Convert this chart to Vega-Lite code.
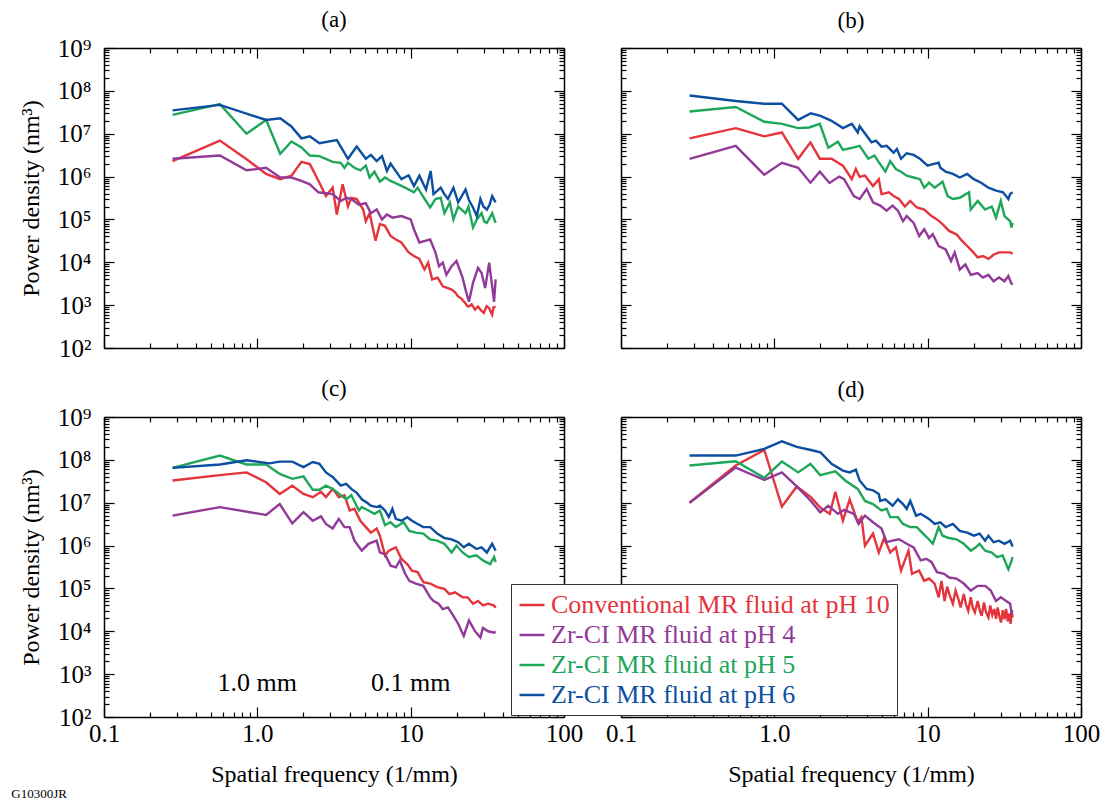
{
"$schema": "https://vega.github.io/schema/vega-lite/v6.json",
"background": "white",
"padding": {"left": 11, "top": 9, "right": 4, "bottom": 2},
"config": {
  "font": "Liberation Serif",
  "view": {"stroke": null},
  "title": {"font": "Liberation Serif", "fontSize": 23, "fontWeight": "normal", "color": "black", "baseline": "bottom", "offset": 14},
  "axis": {"grid": false, "labelFlush": false, "labelOverlap": false, "domainColor": "black", "domainWidth": 1.5, "tickColor": "black", "tickWidth": 1.2, "labelFont": "Liberation Serif", "labelFontSize": 25, "labelColor": "black", "titleFont": "Liberation Serif", "titleFontSize": 24, "titleFontWeight": "normal", "titleColor": "black"}
},
"title": {"text": "G10300JR", "orient": "bottom", "anchor": "start", "fontSize": 13, "offset": 2, "dx": -8, "baseline": "top"},
"datasets": {
"psd": [
{"p":"a","s":"C","f":0.28,"v":2.3e6},{"p":"a","s":"C","f":0.57,"v":6.9e6},{"p":"a","s":"C","f":0.82,"v":2.8e6},{"p":"a","s":"C","f":1.14,"v":1.15e6},{"p":"a","s":"C","f":1.41,"v":8.7e5},{"p":"a","s":"C","f":1.67,"v":1.05e6},{"p":"a","s":"C","f":1.94,"v":2.2e6},{"p":"a","s":"C","f":2.2,"v":1.95e6},{"p":"a","s":"C","f":2.54,"v":7.2e5},{"p":"a","s":"C","f":2.8,"v":3.5e5},{"p":"a","s":"C","f":3.1,"v":5.5e5},{"p":"a","s":"C","f":3.3,"v":1.3e5},{"p":"a","s":"C","f":3.6,"v":6.6e5},{"p":"a","s":"C","f":3.9,"v":2.0e5},{"p":"a","s":"C","f":4.1,"v":3.2e5},{"p":"a","s":"C","f":4.45,"v":3.0e5},{"p":"a","s":"C","f":4.9,"v":1.7e5},{"p":"a","s":"C","f":5.1,"v":9.1e4},{"p":"a","s":"C","f":5.4,"v":1.4e5},{"p":"a","s":"C","f":5.9,"v":3.2e4},{"p":"a","s":"C","f":6.3,"v":7.8e4},{"p":"a","s":"C","f":6.8,"v":7.1e4},{"p":"a","s":"C","f":7.4,"v":4.1e4},{"p":"a","s":"C","f":8.0,"v":3.4e4},{"p":"a","s":"C","f":8.7,"v":2.9e4},{"p":"a","s":"C","f":9.7,"v":1.7e4},{"p":"a","s":"C","f":10.5,"v":1.4e4},{"p":"a","s":"C","f":11.4,"v":1.2e4},{"p":"a","s":"C","f":12.3,"v":6.8e3},{"p":"a","s":"C","f":13.0,"v":9.8e3},{"p":"a","s":"C","f":13.8,"v":4.0e3},{"p":"a","s":"C","f":15,"v":4.4e3},{"p":"a","s":"C","f":16.2,"v":2.75e3},{"p":"a","s":"C","f":17.5,"v":2.5e3},{"p":"a","s":"C","f":18.5,"v":2.3e3},{"p":"a","s":"C","f":19.5,"v":2.0e3},{"p":"a","s":"C","f":20.4,"v":1.6e3},{"p":"a","s":"C","f":21.5,"v":1.4e3},{"p":"a","s":"C","f":22.8,"v":1.1e3},{"p":"a","s":"C","f":23.4,"v":9.5e2},{"p":"a","s":"C","f":24,"v":9.3e2},{"p":"a","s":"C","f":25,"v":1.05e3},{"p":"a","s":"C","f":26.3,"v":7.9e2},{"p":"a","s":"C","f":27.5,"v":9.3e2},{"p":"a","s":"C","f":28.7,"v":7.6e2},{"p":"a","s":"C","f":30,"v":6.6e2},{"p":"a","s":"C","f":31.3,"v":9.5e2},{"p":"a","s":"C","f":32.5,"v":8.5e2},{"p":"a","s":"C","f":33.2,"v":7.1e2},{"p":"a","s":"C","f":34,"v":6.0e2},{"p":"a","s":"C","f":34.7,"v":8.9e2},{"p":"a","s":"C","f":35.8,"v":9.3e2},
{"p":"a","s":"4","f":0.28,"v":2.6e6},{"p":"a","s":"4","f":0.57,"v":3.1e6},{"p":"a","s":"4","f":0.85,"v":1.4e6},{"p":"a","s":"4","f":1.14,"v":1.6e6},{"p":"a","s":"4","f":1.41,"v":9.5e5},{"p":"a","s":"4","f":1.67,"v":9.5e5},{"p":"a","s":"4","f":1.94,"v":7.9e5},{"p":"a","s":"4","f":2.2,"v":6.6e5},{"p":"a","s":"4","f":2.5,"v":4.3e5},{"p":"a","s":"4","f":3.1,"v":3.9e5},{"p":"a","s":"4","f":3.5,"v":2.7e5},{"p":"a","s":"4","f":3.8,"v":3.2e5},{"p":"a","s":"4","f":4.1,"v":3.0e5},{"p":"a","s":"4","f":4.6,"v":2.2e5},{"p":"a","s":"4","f":5.1,"v":2.4e5},{"p":"a","s":"4","f":5.5,"v":1.4e5},{"p":"a","s":"4","f":6.0,"v":1.7e5},{"p":"a","s":"4","f":6.5,"v":1.0e5},{"p":"a","s":"4","f":7.0,"v":1.3e5},{"p":"a","s":"4","f":7.6,"v":1.1e5},{"p":"a","s":"4","f":8.7,"v":1.2e5},{"p":"a","s":"4","f":10.0,"v":1.0e5},{"p":"a","s":"4","f":10.5,"v":5.9e4},{"p":"a","s":"4","f":11.4,"v":2.9e4},{"p":"a","s":"4","f":12.6,"v":3.2e4},{"p":"a","s":"4","f":13.4,"v":3.4e4},{"p":"a","s":"4","f":14.5,"v":1.7e4},{"p":"a","s":"4","f":15.3,"v":8.1e3},{"p":"a","s":"4","f":16.2,"v":9.8e3},{"p":"a","s":"4","f":17.1,"v":5.1e3},{"p":"a","s":"4","f":18.5,"v":8.1e3},{"p":"a","s":"4","f":19.9,"v":1.07e4},{"p":"a","s":"4","f":21.8,"v":4.4e3},{"p":"a","s":"4","f":22.8,"v":2.3e3},{"p":"a","s":"4","f":24.0,"v":1.2e3},{"p":"a","s":"4","f":25.5,"v":3.3e3},{"p":"a","s":"4","f":27.5,"v":7.4e3},{"p":"a","s":"4","f":29,"v":5.6e3},{"p":"a","s":"4","f":30.6,"v":2.5e3},{"p":"a","s":"4","f":32.5,"v":9.8e3},{"p":"a","s":"4","f":34,"v":2.75e3},{"p":"a","s":"4","f":35,"v":1.2e3},{"p":"a","s":"4","f":35.8,"v":4.0e3},
{"p":"a","s":"5","f":0.28,"v":2.75e7},{"p":"a","s":"5","f":0.57,"v":4.9e7},{"p":"a","s":"5","f":0.85,"v":1.0e7},{"p":"a","s":"5","f":1.14,"v":2.1e7},{"p":"a","s":"5","f":1.41,"v":3.4e6},{"p":"a","s":"5","f":1.67,"v":6.6e6},{"p":"a","s":"5","f":1.94,"v":4.8e6},{"p":"a","s":"5","f":2.2,"v":3.1e6},{"p":"a","s":"5","f":2.54,"v":3.0e6},{"p":"a","s":"5","f":3.1,"v":2.2e6},{"p":"a","s":"5","f":3.5,"v":2.1e6},{"p":"a","s":"5","f":3.7,"v":1.6e6},{"p":"a","s":"5","f":3.9,"v":2.1e6},{"p":"a","s":"5","f":4.3,"v":1.6e6},{"p":"a","s":"5","f":4.7,"v":1.4e6},{"p":"a","s":"5","f":5.1,"v":1.8e6},{"p":"a","s":"5","f":5.4,"v":9.5e5},{"p":"a","s":"5","f":5.8,"v":1.3e6},{"p":"a","s":"5","f":6.3,"v":7.6e5},{"p":"a","s":"5","f":6.8,"v":9.5e5},{"p":"a","s":"5","f":7.4,"v":7.9e5},{"p":"a","s":"5","f":8.3,"v":6.6e5},{"p":"a","s":"5","f":9.2,"v":5.5e5},{"p":"a","s":"5","f":10.5,"v":4.3e5},{"p":"a","s":"5","f":11.1,"v":5.5e5},{"p":"a","s":"5","f":12.0,"v":3.5e5},{"p":"a","s":"5","f":13.4,"v":1.9e5},{"p":"a","s":"5","f":14.5,"v":3.0e5},{"p":"a","s":"5","f":15.7,"v":3.2e5},{"p":"a","s":"5","f":16.6,"v":1.4e5},{"p":"a","s":"5","f":18,"v":2.5e5},{"p":"a","s":"5","f":19,"v":1.0e5},{"p":"a","s":"5","f":20.4,"v":2.0e5},{"p":"a","s":"5","f":22.8,"v":1.4e5},{"p":"a","s":"5","f":23.8,"v":2.0e5},{"p":"a","s":"5","f":25.5,"v":6.5e4},{"p":"a","s":"5","f":26.2,"v":7.9e4},{"p":"a","s":"5","f":27,"v":1.0e5},{"p":"a","s":"5","f":29,"v":1.4e5},{"p":"a","s":"5","f":30.2,"v":8.9e4},{"p":"a","s":"5","f":31.4,"v":8.3e4},{"p":"a","s":"5","f":32.8,"v":1.1e5},{"p":"a","s":"5","f":34,"v":1.4e5},{"p":"a","s":"5","f":35.8,"v":8.3e4},
{"p":"a","s":"6","f":0.28,"v":3.5e7},{"p":"a","s":"6","f":0.57,"v":4.7e7},{"p":"a","s":"6","f":1.14,"v":2.1e7},{"p":"a","s":"6","f":1.41,"v":2.3e7},{"p":"a","s":"6","f":1.66,"v":1.5e7},{"p":"a","s":"6","f":1.94,"v":7.8e6},{"p":"a","s":"6","f":2.2,"v":8.7e6},{"p":"a","s":"6","f":2.54,"v":6.0e6},{"p":"a","s":"6","f":3.3,"v":7.1e6},{"p":"a","s":"6","f":3.9,"v":2.6e6},{"p":"a","s":"6","f":4.45,"v":5.0e6},{"p":"a","s":"6","f":5.1,"v":2.6e6},{"p":"a","s":"6","f":5.5,"v":3.2e6},{"p":"a","s":"6","f":6.0,"v":2.3e6},{"p":"a","s":"6","f":6.5,"v":3.0e6},{"p":"a","s":"6","f":7.0,"v":1.35e6},{"p":"a","s":"6","f":7.4,"v":2.0e6},{"p":"a","s":"6","f":8.7,"v":8.7e5},{"p":"a","s":"6","f":9.7,"v":1.07e6},{"p":"a","s":"6","f":10.5,"v":6.0e5},{"p":"a","s":"6","f":11.4,"v":1.05e6},{"p":"a","s":"6","f":12.6,"v":5.0e5},{"p":"a","s":"6","f":13.5,"v":1.35e6},{"p":"a","s":"6","f":14.1,"v":3.9e5},{"p":"a","s":"6","f":15.7,"v":5.5e5},{"p":"a","s":"6","f":16.5,"v":4.0e5},{"p":"a","s":"6","f":17.5,"v":3.0e5},{"p":"a","s":"6","f":19,"v":5.5e5},{"p":"a","s":"6","f":20.4,"v":2.5e5},{"p":"a","s":"6","f":22.8,"v":5.0e5},{"p":"a","s":"6","f":24,"v":2.8e5},{"p":"a","s":"6","f":25.5,"v":1.9e5},{"p":"a","s":"6","f":27,"v":1.2e5},{"p":"a","s":"6","f":28.5,"v":3.0e5},{"p":"a","s":"6","f":29.8,"v":2.0e5},{"p":"a","s":"6","f":31.4,"v":1.7e5},{"p":"a","s":"6","f":32.7,"v":2.2e5},{"p":"a","s":"6","f":34,"v":3.5e5},{"p":"a","s":"6","f":35.8,"v":2.5e5},
{"p":"b","s":"C","f":0.28,"v":7.8e6},{"p":"b","s":"C","f":0.56,"v":1.35e7},{"p":"b","s":"C","f":0.86,"v":8.7e6},{"p":"b","s":"C","f":1.12,"v":1.07e7},{"p":"b","s":"C","f":1.43,"v":2.6e6},{"p":"b","s":"C","f":1.72,"v":6.3e6},{"p":"b","s":"C","f":1.98,"v":2.6e6},{"p":"b","s":"C","f":2.36,"v":2.6e6},{"p":"b","s":"C","f":2.8,"v":1.8e6},{"p":"b","s":"C","f":3.2,"v":8.7e5},{"p":"b","s":"C","f":3.4,"v":1.5e6},{"p":"b","s":"C","f":3.6,"v":9.8e5},{"p":"b","s":"C","f":3.9,"v":1.05e6},{"p":"b","s":"C","f":4.4,"v":6.0e5},{"p":"b","s":"C","f":4.8,"v":8.7e5},{"p":"b","s":"C","f":5.0,"v":3.9e5},{"p":"b","s":"C","f":5.6,"v":4.3e5},{"p":"b","s":"C","f":6.0,"v":3.5e5},{"p":"b","s":"C","f":6.5,"v":3.0e5},{"p":"b","s":"C","f":7.1,"v":2.0e5},{"p":"b","s":"C","f":7.7,"v":2.7e5},{"p":"b","s":"C","f":8.5,"v":1.9e5},{"p":"b","s":"C","f":9.5,"v":1.7e5},{"p":"b","s":"C","f":10.6,"v":1.2e5},{"p":"b","s":"C","f":11.5,"v":1.0e5},{"p":"b","s":"C","f":12.5,"v":7.8e4},{"p":"b","s":"C","f":13.8,"v":5.4e4},{"p":"b","s":"C","f":15.4,"v":4.5e4},{"p":"b","s":"C","f":16.7,"v":3.2e4},{"p":"b","s":"C","f":18.1,"v":2.4e4},{"p":"b","s":"C","f":19.6,"v":1.8e4},{"p":"b","s":"C","f":21.2,"v":1.3e4},{"p":"b","s":"C","f":22.9,"v":1.4e4},{"p":"b","s":"C","f":24.9,"v":1.2e4},{"p":"b","s":"C","f":26.9,"v":1.5e4},{"p":"b","s":"C","f":29.2,"v":1.7e4},{"p":"b","s":"C","f":31.7,"v":1.7e4},{"p":"b","s":"C","f":34.5,"v":1.7e4},{"p":"b","s":"C","f":35.8,"v":1.6e4},
{"p":"b","s":"4","f":0.28,"v":2.6e6},{"p":"b","s":"4","f":0.56,"v":5.2e6},{"p":"b","s":"4","f":0.86,"v":1.1e6},{"p":"b","s":"4","f":1.12,"v":2.1e6},{"p":"b","s":"4","f":1.43,"v":1.6e6},{"p":"b","s":"4","f":1.72,"v":7.2e5},{"p":"b","s":"4","f":1.98,"v":1.3e6},{"p":"b","s":"4","f":2.29,"v":7.1e5},{"p":"b","s":"4","f":2.65,"v":1.0e6},{"p":"b","s":"4","f":2.85,"v":8.7e5},{"p":"b","s":"4","f":3.3,"v":3.5e5},{"p":"b","s":"4","f":3.6,"v":3.0e5},{"p":"b","s":"4","f":4.0,"v":5.1e5},{"p":"b","s":"4","f":4.4,"v":2.5e5},{"p":"b","s":"4","f":4.9,"v":2.1e5},{"p":"b","s":"4","f":5.4,"v":1.6e5},{"p":"b","s":"4","f":5.9,"v":2.1e5},{"p":"b","s":"4","f":6.4,"v":1.6e5},{"p":"b","s":"4","f":6.9,"v":9.1e4},{"p":"b","s":"4","f":7.3,"v":1.2e5},{"p":"b","s":"4","f":8.1,"v":8.3e4},{"p":"b","s":"4","f":8.8,"v":4.1e4},{"p":"b","s":"4","f":9.5,"v":5.9e4},{"p":"b","s":"4","f":10.2,"v":3.7e4},{"p":"b","s":"4","f":10.8,"v":4.5e4},{"p":"b","s":"4","f":11.8,"v":2.4e4},{"p":"b","s":"4","f":13.1,"v":2.0e4},{"p":"b","s":"4","f":14.2,"v":1.07e4},{"p":"b","s":"4","f":15,"v":1.7e4},{"p":"b","s":"4","f":16.2,"v":6.8e3},{"p":"b","s":"4","f":17.6,"v":8.9e3},{"p":"b","s":"4","f":19.1,"v":5.1e3},{"p":"b","s":"4","f":21.2,"v":5.6e3},{"p":"b","s":"4","f":22.9,"v":4.4e3},{"p":"b","s":"4","f":24.9,"v":5.1e3},{"p":"b","s":"4","f":26.9,"v":3.6e3},{"p":"b","s":"4","f":29.2,"v":4.4e3},{"p":"b","s":"4","f":31.7,"v":3.6e3},{"p":"b","s":"4","f":33.6,"v":4.8e3},{"p":"b","s":"4","f":35.0,"v":3.3e3},{"p":"b","s":"4","f":35.8,"v":3.0e3},
{"p":"b","s":"5","f":0.28,"v":3.3e7},{"p":"b","s":"5","f":0.56,"v":4.2e7},{"p":"b","s":"5","f":0.86,"v":1.9e7},{"p":"b","s":"5","f":1.12,"v":1.7e7},{"p":"b","s":"5","f":1.43,"v":1.35e7},{"p":"b","s":"5","f":1.69,"v":1.4e7},{"p":"b","s":"5","f":1.98,"v":1.7e7},{"p":"b","s":"5","f":2.25,"v":4.7e6},{"p":"b","s":"5","f":2.6,"v":6.5e6},{"p":"b","s":"5","f":2.8,"v":4.2e6},{"p":"b","s":"5","f":3.3,"v":4.8e6},{"p":"b","s":"5","f":3.6,"v":5.2e6},{"p":"b","s":"5","f":4.1,"v":2.6e6},{"p":"b","s":"5","f":4.5,"v":3.1e6},{"p":"b","s":"5","f":4.9,"v":1.95e6},{"p":"b","s":"5","f":5.3,"v":1.3e6},{"p":"b","s":"5","f":5.7,"v":2.3e6},{"p":"b","s":"5","f":6.2,"v":1.5e6},{"p":"b","s":"5","f":6.7,"v":1.3e6},{"p":"b","s":"5","f":7.3,"v":1.05e6},{"p":"b","s":"5","f":8.1,"v":9.5e5},{"p":"b","s":"5","f":8.9,"v":8.7e5},{"p":"b","s":"5","f":9.5,"v":5.5e5},{"p":"b","s":"5","f":10.2,"v":7.2e5},{"p":"b","s":"5","f":11.1,"v":5.5e5},{"p":"b","s":"5","f":12.5,"v":7.6e5},{"p":"b","s":"5","f":13.5,"v":3.5e5},{"p":"b","s":"5","f":14.6,"v":3.0e5},{"p":"b","s":"5","f":16.2,"v":3.2e5},{"p":"b","s":"5","f":18.6,"v":4.3e5},{"p":"b","s":"5","f":19.1,"v":1.7e5},{"p":"b","s":"5","f":21.2,"v":2.7e5},{"p":"b","s":"5","f":23.7,"v":1.7e5},{"p":"b","s":"5","f":26.2,"v":2.0e5},{"p":"b","s":"5","f":27.9,"v":1.1e5},{"p":"b","s":"5","f":30,"v":2.7e5},{"p":"b","s":"5","f":31.7,"v":1.2e5},{"p":"b","s":"5","f":34.5,"v":9.1e4},{"p":"b","s":"5","f":35.2,"v":6.5e4},{"p":"b","s":"5","f":35.8,"v":8.3e4},
{"p":"b","s":"6","f":0.28,"v":7.8e7},{"p":"b","s":"6","f":0.56,"v":5.8e7},{"p":"b","s":"6","f":0.86,"v":5.0e7},{"p":"b","s":"6","f":1.12,"v":5.0e7},{"p":"b","s":"6","f":1.43,"v":2.1e7},{"p":"b","s":"6","f":1.73,"v":3.0e7},{"p":"b","s":"6","f":2.0,"v":2.6e7},{"p":"b","s":"6","f":2.36,"v":2.0e7},{"p":"b","s":"6","f":2.8,"v":1.35e7},{"p":"b","s":"6","f":3.2,"v":1.7e7},{"p":"b","s":"6","f":3.5,"v":1.07e7},{"p":"b","s":"6","f":3.6,"v":1.5e7},{"p":"b","s":"6","f":4.3,"v":6.3e6},{"p":"b","s":"6","f":4.6,"v":6.9e6},{"p":"b","s":"6","f":5.0,"v":5.0e6},{"p":"b","s":"6","f":5.4,"v":5.2e6},{"p":"b","s":"6","f":6.0,"v":3.6e6},{"p":"b","s":"6","f":6.3,"v":4.4e6},{"p":"b","s":"6","f":6.7,"v":2.6e6},{"p":"b","s":"6","f":7.3,"v":3.5e6},{"p":"b","s":"6","f":8.1,"v":3.2e6},{"p":"b","s":"6","f":8.9,"v":2.6e6},{"p":"b","s":"6","f":10.0,"v":1.8e6},{"p":"b","s":"6","f":10.8,"v":1.95e6},{"p":"b","s":"6","f":11.8,"v":2.1e6},{"p":"b","s":"6","f":12.1,"v":1.6e6},{"p":"b","s":"6","f":13.1,"v":1.3e6},{"p":"b","s":"6","f":14.6,"v":1.15e6},{"p":"b","s":"6","f":16.2,"v":9.5e5},{"p":"b","s":"6","f":18.1,"v":1.15e6},{"p":"b","s":"6","f":20,"v":8.7e5},{"p":"b","s":"6","f":22.3,"v":7.2e5},{"p":"b","s":"6","f":24.9,"v":5.5e5},{"p":"b","s":"6","f":27.9,"v":4.7e5},{"p":"b","s":"6","f":31,"v":4.3e5},{"p":"b","s":"6","f":33.6,"v":3.0e5},{"p":"b","s":"6","f":34.5,"v":3.9e5},{"p":"b","s":"6","f":35.8,"v":4.3e5},
{"p":"c","s":"C","f":0.28,"v":3.3e7},{"p":"c","s":"C","f":0.57,"v":4.4e7},{"p":"c","s":"C","f":0.85,"v":5.1e7},{"p":"c","s":"C","f":1.14,"v":3.0e7},{"p":"c","s":"C","f":1.4,"v":1.6e7},{"p":"c","s":"C","f":1.69,"v":2.5e7},{"p":"c","s":"C","f":2.0,"v":1.6e7},{"p":"c","s":"C","f":2.3,"v":1.35e7},{"p":"c","s":"C","f":2.6,"v":1.8e7},{"p":"c","s":"C","f":2.8,"v":1.35e7},{"p":"c","s":"C","f":3.1,"v":2.1e7},{"p":"c","s":"C","f":3.4,"v":1.35e7},{"p":"c","s":"C","f":3.7,"v":1.5e7},{"p":"c","s":"C","f":4.0,"v":6.6e6},{"p":"c","s":"C","f":4.3,"v":7.2e6},{"p":"c","s":"C","f":4.7,"v":3.8e6},{"p":"c","s":"C","f":5.1,"v":2.7e6},{"p":"c","s":"C","f":5.5,"v":2.0e6},{"p":"c","s":"C","f":6.0,"v":2.5e6},{"p":"c","s":"C","f":6.3,"v":1.7e6},{"p":"c","s":"C","f":6.8,"v":5.9e5},{"p":"c","s":"C","f":7.2,"v":7.6e5},{"p":"c","s":"C","f":8.0,"v":9.1e5},{"p":"c","s":"C","f":8.7,"v":4.9e5},{"p":"c","s":"C","f":9.5,"v":3.7e5},{"p":"c","s":"C","f":10.2,"v":2.6e5},{"p":"c","s":"C","f":11.1,"v":2.4e5},{"p":"c","s":"C","f":12.1,"v":1.4e5},{"p":"c","s":"C","f":13.4,"v":1.3e5},{"p":"c","s":"C","f":14.9,"v":1.07e5},{"p":"c","s":"C","f":16.6,"v":9.8e4},{"p":"c","s":"C","f":17.9,"v":7.4e4},{"p":"c","s":"C","f":19.5,"v":8.1e4},{"p":"c","s":"C","f":21.8,"v":6.2e4},{"p":"c","s":"C","f":23.5,"v":6.2e4},{"p":"c","s":"C","f":25.5,"v":4.4e4},{"p":"c","s":"C","f":27.5,"v":5.1e4},{"p":"c","s":"C","f":29.6,"v":4.0e4},{"p":"c","s":"C","f":32,"v":4.4e4},{"p":"c","s":"C","f":35,"v":4.0e4},{"p":"c","s":"C","f":35.8,"v":3.5e4},
{"p":"c","s":"4","f":0.28,"v":5.0e6},{"p":"c","s":"4","f":0.57,"v":7.9e6},{"p":"c","s":"4","f":1.14,"v":5.2e6},{"p":"c","s":"4","f":1.4,"v":9.3e6},{"p":"c","s":"4","f":1.69,"v":3.3e6},{"p":"c","s":"4","f":2.0,"v":6.0e6},{"p":"c","s":"4","f":2.3,"v":3.8e6},{"p":"c","s":"4","f":2.6,"v":4.8e6},{"p":"c","s":"4","f":2.8,"v":3.2e6},{"p":"c","s":"4","f":3.1,"v":2.5e6},{"p":"c","s":"4","f":3.4,"v":4.2e6},{"p":"c","s":"4","f":3.7,"v":2.7e6},{"p":"c","s":"4","f":4.0,"v":2.7e6},{"p":"c","s":"4","f":4.3,"v":1.3e6},{"p":"c","s":"4","f":4.8,"v":7.6e5},{"p":"c","s":"4","f":5.3,"v":1.1e6},{"p":"c","s":"4","f":6.0,"v":1.3e6},{"p":"c","s":"4","f":6.3,"v":6.9e5},{"p":"c","s":"4","f":6.8,"v":6.3e5},{"p":"c","s":"4","f":7.4,"v":3.4e5},{"p":"c","s":"4","f":8.0,"v":3.1e5},{"p":"c","s":"4","f":8.5,"v":4.5e5},{"p":"c","s":"4","f":9.2,"v":2.2e5},{"p":"c","s":"4","f":9.8,"v":1.5e5},{"p":"c","s":"4","f":10.8,"v":1.3e5},{"p":"c","s":"4","f":12.1,"v":1.15e5},{"p":"c","s":"4","f":13.4,"v":6.2e4},{"p":"c","s":"4","f":14.1,"v":5.1e4},{"p":"c","s":"4","f":15.2,"v":4.4e4},{"p":"c","s":"4","f":16.2,"v":3.3e4},{"p":"c","s":"4","f":17.5,"v":3.6e4},{"p":"c","s":"4","f":19,"v":2.3e4},{"p":"c","s":"4","f":20.4,"v":1.5e4},{"p":"c","s":"4","f":22.2,"v":7.8e3},{"p":"c","s":"4","f":24,"v":1.8e4},{"p":"c","s":"4","f":26.3,"v":1.0e4},{"p":"c","s":"4","f":28.5,"v":7.2e3},{"p":"c","s":"4","f":29.6,"v":1.2e4},{"p":"c","s":"4","f":32,"v":1.0e4},{"p":"c","s":"4","f":35,"v":9.3e3},{"p":"c","s":"4","f":35.8,"v":1.0e4},
{"p":"c","s":"5","f":0.28,"v":6.5e7},{"p":"c","s":"5","f":0.57,"v":1.26e8},{"p":"c","s":"5","f":0.85,"v":7.8e7},{"p":"c","s":"5","f":1.14,"v":7.8e7},{"p":"c","s":"5","f":1.4,"v":4.7e7},{"p":"c","s":"5","f":1.69,"v":3.6e7},{"p":"c","s":"5","f":2.0,"v":4.1e7},{"p":"c","s":"5","f":2.3,"v":2.0e7},{"p":"c","s":"5","f":2.54,"v":2.0e7},{"p":"c","s":"5","f":2.8,"v":2.5e7},{"p":"c","s":"5","f":3.1,"v":2.1e7},{"p":"c","s":"5","f":3.5,"v":1.5e7},{"p":"c","s":"5","f":3.8,"v":1.2e7},{"p":"c","s":"5","f":4.1,"v":1.5e7},{"p":"c","s":"5","f":4.6,"v":6.6e6},{"p":"c","s":"5","f":4.8,"v":7.9e6},{"p":"c","s":"5","f":5.3,"v":6.6e6},{"p":"c","s":"5","f":5.8,"v":5.5e6},{"p":"c","s":"5","f":6.3,"v":6.6e6},{"p":"c","s":"5","f":6.8,"v":3.0e6},{"p":"c","s":"5","f":7.4,"v":3.5e6},{"p":"c","s":"5","f":8.0,"v":2.7e6},{"p":"c","s":"5","f":9.0,"v":3.5e6},{"p":"c","s":"5","f":9.8,"v":2.2e6},{"p":"c","s":"5","f":10.8,"v":2.0e6},{"p":"c","s":"5","f":12.1,"v":1.9e6},{"p":"c","s":"5","f":13.4,"v":1.4e6},{"p":"c","s":"5","f":14.9,"v":1.3e6},{"p":"c","s":"5","f":16.6,"v":1.1e6},{"p":"c","s":"5","f":18.5,"v":6.9e5},{"p":"c","s":"5","f":19.9,"v":1.0e6},{"p":"c","s":"5","f":21.8,"v":6.9e5},{"p":"c","s":"5","f":24,"v":5.4e5},{"p":"c","s":"5","f":26.8,"v":5.9e5},{"p":"c","s":"5","f":29.6,"v":4.5e5},{"p":"c","s":"5","f":33,"v":3.7e5},{"p":"c","s":"5","f":35,"v":5.4e5},{"p":"c","s":"5","f":35.8,"v":4.1e5},
{"p":"c","s":"6","f":0.28,"v":6.5e7},{"p":"c","s":"6","f":0.57,"v":7.8e7},{"p":"c","s":"6","f":0.85,"v":9.8e7},{"p":"c","s":"6","f":1.2,"v":8.3e7},{"p":"c","s":"6","f":1.4,"v":9.1e7},{"p":"c","s":"6","f":1.69,"v":9.1e7},{"p":"c","s":"6","f":2.0,"v":6.8e7},{"p":"c","s":"6","f":2.3,"v":8.9e7},{"p":"c","s":"6","f":2.54,"v":8.1e7},{"p":"c","s":"6","f":2.8,"v":5.1e7},{"p":"c","s":"6","f":3.1,"v":4.0e7},{"p":"c","s":"6","f":3.5,"v":2.5e7},{"p":"c","s":"6","f":3.8,"v":2.75e7},{"p":"c","s":"6","f":4.1,"v":2.1e7},{"p":"c","s":"6","f":4.45,"v":1.7e7},{"p":"c","s":"6","f":4.8,"v":1.2e7},{"p":"c","s":"6","f":5.2,"v":1.0e7},{"p":"c","s":"6","f":5.5,"v":8.5e6},{"p":"c","s":"6","f":6.0,"v":7.9e6},{"p":"c","s":"6","f":6.3,"v":8.5e6},{"p":"c","s":"6","f":6.8,"v":6.6e6},{"p":"c","s":"6","f":7.2,"v":4.6e6},{"p":"c","s":"6","f":7.6,"v":7.2e6},{"p":"c","s":"6","f":8.0,"v":4.2e6},{"p":"c","s":"6","f":8.7,"v":3.8e6},{"p":"c","s":"6","f":9.5,"v":4.6e6},{"p":"c","s":"6","f":10.2,"v":3.8e6},{"p":"c","s":"6","f":11.1,"v":3.2e6},{"p":"c","s":"6","f":12.1,"v":2.7e6},{"p":"c","s":"6","f":13.4,"v":2.7e6},{"p":"c","s":"6","f":14.9,"v":1.9e6},{"p":"c","s":"6","f":16.6,"v":1.5e6},{"p":"c","s":"6","f":18.5,"v":1.4e6},{"p":"c","s":"6","f":20.4,"v":1.2e6},{"p":"c","s":"6","f":22.2,"v":9.1e5},{"p":"c","s":"6","f":24,"v":1.1e6},{"p":"c","s":"6","f":26.8,"v":8.3e5},{"p":"c","s":"6","f":29,"v":9.1e5},{"p":"c","s":"6","f":31.4,"v":6.9e5},{"p":"c","s":"6","f":34,"v":1.1e6},{"p":"c","s":"6","f":35.8,"v":7.6e5},
{"p":"d","s":"C","f":0.28,"v":1.0e7},{"p":"d","s":"C","f":0.56,"v":7.4e7},{"p":"d","s":"C","f":0.86,"v":1.7e8},{"p":"d","s":"C","f":1.12,"v":8.1e6},{"p":"d","s":"C","f":1.4,"v":2.4e7},{"p":"d","s":"C","f":1.73,"v":1.35e7},{"p":"d","s":"C","f":2.0,"v":7.6e6},{"p":"d","s":"C","f":2.3,"v":5.5e6},{"p":"d","s":"C","f":2.5,"v":1.8e7},{"p":"d","s":"C","f":2.8,"v":3.8e6},{"p":"d","s":"C","f":3.1,"v":1.2e7},{"p":"d","s":"C","f":3.5,"v":3.5e6},{"p":"d","s":"C","f":3.7,"v":4.6e6},{"p":"d","s":"C","f":3.9,"v":1.0e6},{"p":"d","s":"C","f":4.4,"v":1.9e6},{"p":"d","s":"C","f":4.8,"v":6.9e5},{"p":"d","s":"C","f":5.2,"v":1.5e6},{"p":"d","s":"C","f":5.7,"v":6.9e5},{"p":"d","s":"C","f":6.2,"v":9.1e5},{"p":"d","s":"C","f":6.7,"v":2.6e5},{"p":"d","s":"C","f":7.5,"v":7.6e5},{"p":"d","s":"C","f":7.9,"v":2.2e5},{"p":"d","s":"C","f":8.8,"v":2.6e5},{"p":"d","s":"C","f":9.5,"v":1.5e5},{"p":"d","s":"C","f":10.2,"v":1.7e5},{"p":"d","s":"C","f":11.1,"v":1.3e5},{"p":"d","s":"C","f":11.8,"v":6.2e4},{"p":"d","s":"C","f":12.3,"v":1.5e5},{"p":"d","s":"C","f":12.9,"v":5.1e4},{"p":"d","s":"C","f":13.4,"v":1.1e5},{"p":"d","s":"C","f":13.9,"v":7.0e4},{"p":"d","s":"C","f":14.6,"v":4.4e4},{"p":"d","s":"C","f":15.2,"v":8.9e4},{"p":"d","s":"C","f":15.9,"v":5.5e4},{"p":"d","s":"C","f":16.4,"v":3.6e4},{"p":"d","s":"C","f":17.2,"v":7.4e4},{"p":"d","s":"C","f":17.8,"v":4.2e4},{"p":"d","s":"C","f":18.4,"v":3.0e4},{"p":"d","s":"C","f":19.1,"v":6.2e4},{"p":"d","s":"C","f":19.7,"v":3.5e4},{"p":"d","s":"C","f":20.3,"v":2.75e4},{"p":"d","s":"C","f":21.2,"v":5.1e4},{"p":"d","s":"C","f":21.8,"v":3.2e4},{"p":"d","s":"C","f":22.5,"v":2.3e4},{"p":"d","s":"C","f":23.3,"v":4.7e4},{"p":"d","s":"C","f":24.0,"v":2.8e4},{"p":"d","s":"C","f":24.9,"v":2.1e4},{"p":"d","s":"C","f":25.6,"v":4.0e4},{"p":"d","s":"C","f":26.4,"v":2.4e4},{"p":"d","s":"C","f":27.2,"v":3.3e4},{"p":"d","s":"C","f":27.9,"v":1.95e4},{"p":"d","s":"C","f":28.6,"v":3.6e4},{"p":"d","s":"C","f":29.4,"v":2.2e4},{"p":"d","s":"C","f":30.1,"v":1.6e4},{"p":"d","s":"C","f":30.9,"v":3.1e4},{"p":"d","s":"C","f":31.7,"v":1.9e4},{"p":"d","s":"C","f":32.5,"v":3.3e4},{"p":"d","s":"C","f":33.3,"v":1.7e4},{"p":"d","s":"C","f":34.1,"v":2.6e4},{"p":"d","s":"C","f":34.8,"v":1.5e4},{"p":"d","s":"C","f":35.3,"v":3.0e4},{"p":"d","s":"C","f":35.8,"v":2.1e4},
{"p":"d","s":"4","f":0.28,"v":1.0e7},{"p":"d","s":"4","f":0.56,"v":6.6e7},{"p":"d","s":"4","f":0.86,"v":3.4e7},{"p":"d","s":"4","f":1.12,"v":5.1e7},{"p":"d","s":"4","f":1.4,"v":2.4e7},{"p":"d","s":"4","f":1.73,"v":1.1e7},{"p":"d","s":"4","f":1.99,"v":6.0e6},{"p":"d","s":"4","f":2.25,"v":8.5e6},{"p":"d","s":"4","f":2.6,"v":5.5e6},{"p":"d","s":"4","f":2.85,"v":6.8e6},{"p":"d","s":"4","f":3.3,"v":5.5e6},{"p":"d","s":"4","f":3.55,"v":3.2e6},{"p":"d","s":"4","f":3.9,"v":5.0e6},{"p":"d","s":"4","f":4.4,"v":3.5e6},{"p":"d","s":"4","f":5.0,"v":2.5e6},{"p":"d","s":"4","f":5.4,"v":1.2e6},{"p":"d","s":"4","f":5.9,"v":1.3e6},{"p":"d","s":"4","f":6.5,"v":1.4e6},{"p":"d","s":"4","f":7.3,"v":1.1e6},{"p":"d","s":"4","f":8.1,"v":9.1e5},{"p":"d","s":"4","f":9.0,"v":4.5e5},{"p":"d","s":"4","f":9.8,"v":4.9e5},{"p":"d","s":"4","f":10.6,"v":4.1e5},{"p":"d","s":"4","f":11.5,"v":2.4e5},{"p":"d","s":"4","f":12.8,"v":2.2e5},{"p":"d","s":"4","f":13.8,"v":1.8e5},{"p":"d","s":"4","f":15.4,"v":1.7e5},{"p":"d","s":"4","f":17.2,"v":1.3e5},{"p":"d","s":"4","f":19.1,"v":8.9e4},{"p":"d","s":"4","f":21.2,"v":1.15e5},{"p":"d","s":"4","f":23.7,"v":1.15e5},{"p":"d","s":"4","f":25.8,"v":8.9e4},{"p":"d","s":"4","f":27.9,"v":5.1e4},{"p":"d","s":"4","f":30,"v":6.2e4},{"p":"d","s":"4","f":32.5,"v":5.1e4},{"p":"d","s":"4","f":34.5,"v":4.4e4},{"p":"d","s":"4","f":35.2,"v":2.75e4},{"p":"d","s":"4","f":35.8,"v":3.1e4},
{"p":"d","s":"5","f":0.28,"v":7.4e7},{"p":"d","s":"5","f":0.56,"v":9.3e7},{"p":"d","s":"5","f":0.86,"v":3.8e7},{"p":"d","s":"5","f":1.12,"v":9.1e7},{"p":"d","s":"5","f":1.43,"v":5.1e7},{"p":"d","s":"5","f":1.72,"v":8.1e7},{"p":"d","s":"5","f":1.99,"v":4.4e7},{"p":"d","s":"5","f":2.5,"v":5.4e7},{"p":"d","s":"5","f":2.9,"v":3.3e7},{"p":"d","s":"5","f":3.5,"v":2.1e7},{"p":"d","s":"5","f":3.9,"v":1.1e7},{"p":"d","s":"5","f":4.4,"v":9.3e6},{"p":"d","s":"5","f":5.0,"v":6.6e6},{"p":"d","s":"5","f":5.4,"v":7.2e6},{"p":"d","s":"5","f":5.7,"v":4.6e6},{"p":"d","s":"5","f":6.4,"v":4.6e6},{"p":"d","s":"5","f":6.9,"v":3.2e6},{"p":"d","s":"5","f":7.7,"v":2.7e6},{"p":"d","s":"5","f":8.5,"v":2.7e6},{"p":"d","s":"5","f":9.2,"v":2.0e6},{"p":"d","s":"5","f":10.0,"v":1.5e6},{"p":"d","s":"5","f":10.8,"v":1.1e6},{"p":"d","s":"5","f":11.8,"v":2.7e6},{"p":"d","s":"5","f":12.5,"v":1.7e6},{"p":"d","s":"5","f":13.8,"v":1.5e6},{"p":"d","s":"5","f":15.4,"v":1.4e6},{"p":"d","s":"5","f":17.2,"v":1.1e6},{"p":"d","s":"5","f":19.1,"v":7.6e5},{"p":"d","s":"5","f":20.6,"v":9.1e5},{"p":"d","s":"5","f":21.8,"v":1.1e6},{"p":"d","s":"5","f":23.7,"v":7.6e5},{"p":"d","s":"5","f":26.2,"v":6.9e5},{"p":"d","s":"5","f":28.4,"v":5.4e5},{"p":"d","s":"5","f":30.8,"v":5.9e5},{"p":"d","s":"5","f":33.6,"v":2.8e5},{"p":"d","s":"5","f":35.0,"v":4.1e5},{"p":"d","s":"5","f":35.8,"v":5.4e5},
{"p":"d","s":"6","f":0.28,"v":1.26e8},{"p":"d","s":"6","f":0.56,"v":1.26e8},{"p":"d","s":"6","f":0.86,"v":1.8e8},{"p":"d","s":"6","f":1.12,"v":2.7e8},{"p":"d","s":"6","f":1.4,"v":2.0e8},{"p":"d","s":"6","f":1.73,"v":1.7e8},{"p":"d","s":"6","f":2.0,"v":1.5e8},{"p":"d","s":"6","f":2.36,"v":8.1e7},{"p":"d","s":"6","f":2.8,"v":5.6e7},{"p":"d","s":"6","f":3.1,"v":5.1e7},{"p":"d","s":"6","f":3.4,"v":5.9e7},{"p":"d","s":"6","f":3.6,"v":3.3e7},{"p":"d","s":"6","f":4.0,"v":2.1e7},{"p":"d","s":"6","f":4.4,"v":1.95e7},{"p":"d","s":"6","f":4.8,"v":1.6e7},{"p":"d","s":"6","f":4.9,"v":1.1e7},{"p":"d","s":"6","f":5.3,"v":1.2e7},{"p":"d","s":"6","f":5.9,"v":8.5e6},{"p":"d","s":"6","f":6.4,"v":1.2e7},{"p":"d","s":"6","f":6.9,"v":9.3e6},{"p":"d","s":"6","f":7.3,"v":7.2e6},{"p":"d","s":"6","f":7.7,"v":1.1e7},{"p":"d","s":"6","f":8.4,"v":5.0e6},{"p":"d","s":"6","f":9.0,"v":5.5e6},{"p":"d","s":"6","f":10.2,"v":4.2e6},{"p":"d","s":"6","f":11.1,"v":3.2e6},{"p":"d","s":"6","f":12.1,"v":3.5e6},{"p":"d","s":"6","f":13.1,"v":2.7e6},{"p":"d","s":"6","f":14.6,"v":3.2e6},{"p":"d","s":"6","f":16.2,"v":2.2e6},{"p":"d","s":"6","f":18.1,"v":2.0e6},{"p":"d","s":"6","f":20,"v":1.7e6},{"p":"d","s":"6","f":21.8,"v":1.9e6},{"p":"d","s":"6","f":23.7,"v":1.3e6},{"p":"d","s":"6","f":24.9,"v":1.7e6},{"p":"d","s":"6","f":26.9,"v":1.2e6},{"p":"d","s":"6","f":29.2,"v":1.3e6},{"p":"d","s":"6","f":31.7,"v":1.1e6},{"p":"d","s":"6","f":34.5,"v":1.3e6},{"p":"d","s":"6","f":35.8,"v":9.5e5}
]
},
"bounds": "flush",
"columns": 2,
"spacing": {"row": 69, "column": 57},
"resolve": {"scale": {"color": "shared"}, "legend": {"color": "independent"}},
"concat": [
{
"width": 460, "height": 300, "title": {"text": "(a)", "offset": 4},
"layer": [
{"data": {"name": "psd"}, "transform": [{"filter": "datum.p==='a'"}],
 "mark": {"type": "line", "strokeWidth": 2.4},
 "encoding": {
  "x": {"field": "f", "type": "quantitative", "scale": {"type": "log", "domain": [0.1, 100], "nice": false}, "axis": {"orient": "bottom", "values": [0.1,0.2,0.3,0.4,0.5,0.6,0.7,0.8,0.9,1,2,3,4,5,6,7,8,9,10,20,30,40,50,60,70,80,90,100], "labels": false, "title": null, "tickSize": {"condition": {"test": "abs(log(datum.value)/LN10-round(log(datum.value)/LN10))<0.001", "value": -10}, "value": -5}}},
  "y": {"field": "v", "type": "quantitative", "scale": {"type": "log", "domain": [100, 1e9], "nice": false}, "axis": {"orient": "left", "values": [1e2,2e2,3e2,4e2,5e2,6e2,7e2,8e2,9e2,1e3,2e3,3e3,4e3,5e3,6e3,7e3,8e3,9e3,1e4,2e4,3e4,4e4,5e4,6e4,7e4,8e4,9e4,1e5,2e5,3e5,4e5,5e5,6e5,7e5,8e5,9e5,1e6,2e6,3e6,4e6,5e6,6e6,7e6,8e6,9e6,1e7,2e7,3e7,4e7,5e7,6e7,7e7,8e7,9e7,1e8,2e8,3e8,4e8,5e8,6e8,7e8,8e8,9e8,1e9], "labelExpr": "abs(log(datum.value)/LN10-round(log(datum.value)/LN10))<0.001?'10'+['⁰','¹','²','³','⁴','⁵','⁶','⁷','⁸','⁹'][round(log(datum.value)/LN10)]:''", "labelPadding": 23, "title": "Power density (nm³)", "titlePadding": 14, "tickSize": {"condition": {"test": "abs(log(datum.value)/LN10-round(log(datum.value)/LN10))<0.001", "value": -10}, "value": -5}}},
  "color": {"field": "s", "type": "nominal", "scale": {"domain": ["C","4","5","6"], "range": ["#e4343c","#923a99","#1ea65a","#0c4ea0"]}, "legend": null}
 }},
{"data": {"name": "psd"}, "transform": [{"filter": "datum.p==='a'"}],
 "mark": {"type": "line", "opacity": 0},
 "encoding": {
  "x": {"field": "f", "type": "quantitative", "axis": {"orient": "top", "values": [0.1,0.2,0.3,0.4,0.5,0.6,0.7,0.8,0.9,1,2,3,4,5,6,7,8,9,10,20,30,40,50,60,70,80,90,100], "labels": false, "title": null, "tickSize": {"condition": {"test": "abs(log(datum.value)/LN10-round(log(datum.value)/LN10))<0.001", "value": -10}, "value": -5}}},
  "y": {"field": "v", "type": "quantitative", "axis": {"orient": "right", "values": [1e2,2e2,3e2,4e2,5e2,6e2,7e2,8e2,9e2,1e3,2e3,3e3,4e3,5e3,6e3,7e3,8e3,9e3,1e4,2e4,3e4,4e4,5e4,6e4,7e4,8e4,9e4,1e5,2e5,3e5,4e5,5e5,6e5,7e5,8e5,9e5,1e6,2e6,3e6,4e6,5e6,6e6,7e6,8e6,9e6,1e7,2e7,3e7,4e7,5e7,6e7,7e7,8e7,9e7,1e8,2e8,3e8,4e8,5e8,6e8,7e8,8e8,9e8,1e9], "labels": false, "title": null, "tickSize": {"condition": {"test": "abs(log(datum.value)/LN10-round(log(datum.value)/LN10))<0.001", "value": -10}, "value": -5}}},
  "detail": {"field": "s"}
 }}
],
"resolve": {"axis": {"x": "independent", "y": "independent"}}
},
{
"width": 460, "height": 300, "title": "(b)",
"layer": [
{"data": {"name": "psd"}, "transform": [{"filter": "datum.p==='b'"}],
 "mark": {"type": "line", "strokeWidth": 2.4},
 "encoding": {
  "x": {"field": "f", "type": "quantitative", "scale": {"type": "log", "domain": [0.1, 100], "nice": false}, "axis": {"orient": "bottom", "values": [0.1,0.2,0.3,0.4,0.5,0.6,0.7,0.8,0.9,1,2,3,4,5,6,7,8,9,10,20,30,40,50,60,70,80,90,100], "labels": false, "title": null, "tickSize": {"condition": {"test": "abs(log(datum.value)/LN10-round(log(datum.value)/LN10))<0.001", "value": -10}, "value": -5}}},
  "y": {"field": "v", "type": "quantitative", "scale": {"type": "log", "domain": [100, 1e9], "nice": false}, "axis": {"orient": "left", "values": [1e2,2e2,3e2,4e2,5e2,6e2,7e2,8e2,9e2,1e3,2e3,3e3,4e3,5e3,6e3,7e3,8e3,9e3,1e4,2e4,3e4,4e4,5e4,6e4,7e4,8e4,9e4,1e5,2e5,3e5,4e5,5e5,6e5,7e5,8e5,9e5,1e6,2e6,3e6,4e6,5e6,6e6,7e6,8e6,9e6,1e7,2e7,3e7,4e7,5e7,6e7,7e7,8e7,9e7,1e8,2e8,3e8,4e8,5e8,6e8,7e8,8e8,9e8,1e9], "labels": false, "title": null, "tickSize": {"condition": {"test": "abs(log(datum.value)/LN10-round(log(datum.value)/LN10))<0.001", "value": -10}, "value": -5}}},
  "color": {"field": "s", "type": "nominal", "scale": {"domain": ["C","4","5","6"], "range": ["#e4343c","#923a99","#1ea65a","#0c4ea0"]}, "legend": null}
 }},
{"data": {"name": "psd"}, "transform": [{"filter": "datum.p==='b'"}],
 "mark": {"type": "line", "opacity": 0},
 "encoding": {
  "x": {"field": "f", "type": "quantitative", "axis": {"orient": "top", "values": [0.1,0.2,0.3,0.4,0.5,0.6,0.7,0.8,0.9,1,2,3,4,5,6,7,8,9,10,20,30,40,50,60,70,80,90,100], "labels": false, "title": null, "tickSize": {"condition": {"test": "abs(log(datum.value)/LN10-round(log(datum.value)/LN10))<0.001", "value": -10}, "value": -5}}},
  "y": {"field": "v", "type": "quantitative", "axis": {"orient": "right", "values": [1e2,2e2,3e2,4e2,5e2,6e2,7e2,8e2,9e2,1e3,2e3,3e3,4e3,5e3,6e3,7e3,8e3,9e3,1e4,2e4,3e4,4e4,5e4,6e4,7e4,8e4,9e4,1e5,2e5,3e5,4e5,5e5,6e5,7e5,8e5,9e5,1e6,2e6,3e6,4e6,5e6,6e6,7e6,8e6,9e6,1e7,2e7,3e7,4e7,5e7,6e7,7e7,8e7,9e7,1e8,2e8,3e8,4e8,5e8,6e8,7e8,8e8,9e8,1e9], "labels": false, "title": null, "tickSize": {"condition": {"test": "abs(log(datum.value)/LN10-round(log(datum.value)/LN10))<0.001", "value": -10}, "value": -5}}},
  "detail": {"field": "s"}
 }}
],
"resolve": {"axis": {"x": "independent", "y": "independent"}}
},
{
"width": 460, "height": 300, "title": {"text": "(c)", "offset": 4},
"layer": [
{"data": {"name": "psd"}, "transform": [{"filter": "datum.p==='c'"}],
 "mark": {"type": "line", "strokeWidth": 2.4},
 "encoding": {
  "x": {"field": "f", "type": "quantitative", "scale": {"type": "log", "domain": [0.1, 100], "nice": false}, "axis": {"orient": "bottom", "values": [0.1,0.2,0.3,0.4,0.5,0.6,0.7,0.8,0.9,1,2,3,4,5,6,7,8,9,10,20,30,40,50,60,70,80,90,100], "labelExpr": "datum.value==0.1?'0.1':datum.value==1?'1.0':datum.value==10?'10':datum.value==100?'100':''", "labelPadding": 14, "title": "Spatial frequency (1/mm)", "titlePadding": 11, "tickSize": {"condition": {"test": "abs(log(datum.value)/LN10-round(log(datum.value)/LN10))<0.001", "value": -10}, "value": -5}}},
  "y": {"field": "v", "type": "quantitative", "scale": {"type": "log", "domain": [100, 1e9], "nice": false}, "axis": {"orient": "left", "values": [1e2,2e2,3e2,4e2,5e2,6e2,7e2,8e2,9e2,1e3,2e3,3e3,4e3,5e3,6e3,7e3,8e3,9e3,1e4,2e4,3e4,4e4,5e4,6e4,7e4,8e4,9e4,1e5,2e5,3e5,4e5,5e5,6e5,7e5,8e5,9e5,1e6,2e6,3e6,4e6,5e6,6e6,7e6,8e6,9e6,1e7,2e7,3e7,4e7,5e7,6e7,7e7,8e7,9e7,1e8,2e8,3e8,4e8,5e8,6e8,7e8,8e8,9e8,1e9], "labelExpr": "abs(log(datum.value)/LN10-round(log(datum.value)/LN10))<0.001?'10'+['⁰','¹','²','³','⁴','⁵','⁶','⁷','⁸','⁹'][round(log(datum.value)/LN10)]:''", "labelPadding": 23, "title": "Power density (nm³)", "titlePadding": 14, "tickSize": {"condition": {"test": "abs(log(datum.value)/LN10-round(log(datum.value)/LN10))<0.001", "value": -10}, "value": -5}}},
  "color": {"field": "s", "type": "nominal", "scale": {"domain": ["C","4","5","6"], "range": ["#e4343c","#923a99","#1ea65a","#0c4ea0"]}, "legend": null}
 }},
{"data": {"name": "psd"}, "transform": [{"filter": "datum.p==='c'"}],
 "mark": {"type": "line", "opacity": 0},
 "encoding": {
  "x": {"field": "f", "type": "quantitative", "axis": {"orient": "top", "values": [0.1,0.2,0.3,0.4,0.5,0.6,0.7,0.8,0.9,1,2,3,4,5,6,7,8,9,10,20,30,40,50,60,70,80,90,100], "labels": false, "title": null, "tickSize": {"condition": {"test": "abs(log(datum.value)/LN10-round(log(datum.value)/LN10))<0.001", "value": -10}, "value": -5}}},
  "y": {"field": "v", "type": "quantitative", "axis": {"orient": "right", "values": [1e2,2e2,3e2,4e2,5e2,6e2,7e2,8e2,9e2,1e3,2e3,3e3,4e3,5e3,6e3,7e3,8e3,9e3,1e4,2e4,3e4,4e4,5e4,6e4,7e4,8e4,9e4,1e5,2e5,3e5,4e5,5e5,6e5,7e5,8e5,9e5,1e6,2e6,3e6,4e6,5e6,6e6,7e6,8e6,9e6,1e7,2e7,3e7,4e7,5e7,6e7,7e7,8e7,9e7,1e8,2e8,3e8,4e8,5e8,6e8,7e8,8e8,9e8,1e9], "labels": false, "title": null, "tickSize": {"condition": {"test": "abs(log(datum.value)/LN10-round(log(datum.value)/LN10))<0.001", "value": -10}, "value": -5}}},
  "detail": {"field": "s"}
 }},
{"data": {"values": [{"f": 1, "v": 620, "t": "1.0 mm"}, {"f": 10, "v": 620, "t": "0.1 mm"}]},
 "mark": {"type": "text", "font": "Liberation Serif", "fontSize": 26, "color": "black"},
 "encoding": {
  "x": {"field": "f", "type": "quantitative", "axis": null},
  "y": {"field": "v", "type": "quantitative", "axis": null},
  "text": {"field": "t"}
 }}
],
"resolve": {"axis": {"x": "independent", "y": "independent"}}
},
{
"width": 460, "height": 300, "title": "(d)",
"layer": [
{"data": {"name": "psd"}, "transform": [{"filter": "datum.p==='d'"}],
 "mark": {"type": "line", "strokeWidth": 2.4},
 "encoding": {
  "x": {"field": "f", "type": "quantitative", "scale": {"type": "log", "domain": [0.1, 100], "nice": false}, "axis": {"orient": "bottom", "values": [0.1,0.2,0.3,0.4,0.5,0.6,0.7,0.8,0.9,1,2,3,4,5,6,7,8,9,10,20,30,40,50,60,70,80,90,100], "labelExpr": "datum.value==0.1?'0.1':datum.value==1?'1.0':datum.value==10?'10':datum.value==100?'100':''", "labelPadding": 14, "title": "Spatial frequency (1/mm)", "titlePadding": 11, "tickSize": {"condition": {"test": "abs(log(datum.value)/LN10-round(log(datum.value)/LN10))<0.001", "value": -10}, "value": -5}}},
  "y": {"field": "v", "type": "quantitative", "scale": {"type": "log", "domain": [100, 1e9], "nice": false}, "axis": {"orient": "left", "values": [1e2,2e2,3e2,4e2,5e2,6e2,7e2,8e2,9e2,1e3,2e3,3e3,4e3,5e3,6e3,7e3,8e3,9e3,1e4,2e4,3e4,4e4,5e4,6e4,7e4,8e4,9e4,1e5,2e5,3e5,4e5,5e5,6e5,7e5,8e5,9e5,1e6,2e6,3e6,4e6,5e6,6e6,7e6,8e6,9e6,1e7,2e7,3e7,4e7,5e7,6e7,7e7,8e7,9e7,1e8,2e8,3e8,4e8,5e8,6e8,7e8,8e8,9e8,1e9], "labels": false, "title": null, "tickSize": {"condition": {"test": "abs(log(datum.value)/LN10-round(log(datum.value)/LN10))<0.001", "value": -10}, "value": -5}}},
  "color": {"field": "s", "type": "nominal", "scale": {"domain": ["C","4","5","6"], "range": ["#e4343c","#923a99","#1ea65a","#0c4ea0"]},
    "legend": {"orient": "none", "legendX": -110, "legendY": 167, "title": null, "direction": "vertical", "symbolType": "stroke", "symbolSize": 625, "symbolStrokeWidth": 2.5, "labelFont": "Liberation Serif", "labelFontSize": 26, "labelOffset": 5, "labelLimit": 0, "rowPadding": 3, "padding": 7, "fillColor": "white", "strokeColor": "#333333", "zindex": 5, "labelColor": {"expr": "scale('color', datum.value)"}, "labelExpr": "datum.value==='C'?'Conventional MR fluid at pH 10':'Zr-CI MR fluid at pH '+datum.value"}}
 }},
{"data": {"name": "psd"}, "transform": [{"filter": "datum.p==='d'"}],
 "mark": {"type": "line", "opacity": 0},
 "encoding": {
  "x": {"field": "f", "type": "quantitative", "axis": {"orient": "top", "values": [0.1,0.2,0.3,0.4,0.5,0.6,0.7,0.8,0.9,1,2,3,4,5,6,7,8,9,10,20,30,40,50,60,70,80,90,100], "labels": false, "title": null, "tickSize": {"condition": {"test": "abs(log(datum.value)/LN10-round(log(datum.value)/LN10))<0.001", "value": -10}, "value": -5}}},
  "y": {"field": "v", "type": "quantitative", "axis": {"orient": "right", "values": [1e2,2e2,3e2,4e2,5e2,6e2,7e2,8e2,9e2,1e3,2e3,3e3,4e3,5e3,6e3,7e3,8e3,9e3,1e4,2e4,3e4,4e4,5e4,6e4,7e4,8e4,9e4,1e5,2e5,3e5,4e5,5e5,6e5,7e5,8e5,9e5,1e6,2e6,3e6,4e6,5e6,6e6,7e6,8e6,9e6,1e7,2e7,3e7,4e7,5e7,6e7,7e7,8e7,9e7,1e8,2e8,3e8,4e8,5e8,6e8,7e8,8e8,9e8,1e9], "labels": false, "title": null, "tickSize": {"condition": {"test": "abs(log(datum.value)/LN10-round(log(datum.value)/LN10))<0.001", "value": -10}, "value": -5}}},
  "detail": {"field": "s"}
 }}
],
"resolve": {"axis": {"x": "independent", "y": "independent"}}
}
]
}
